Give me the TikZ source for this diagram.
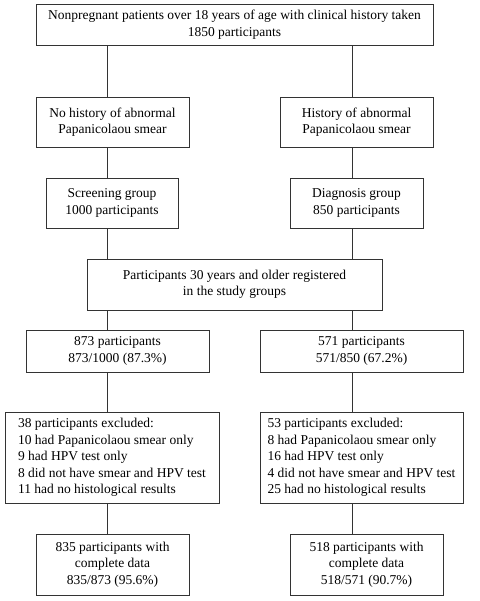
\documentclass[tikz,border=0pt]{standalone}
\usepackage{fontspec}
\setmainfont{Liberation Serif}
\begin{document}
\begin{tikzpicture}[x=1pt, y=-1pt,
	box/.style={draw=black!80, line width=0.8pt, align=center, inner sep=0pt,
		font=\fontsize{13.5}{16.5}\selectfont},
	list/.style={box, align=left}]
	\useasboundingbox (0,0) rectangle (479,601);
	
	\node [box, minimum width=397pt, minimum height=41pt] (all) at (234.5,24.5)
		{Nonpregnant patients over 18 years of age with clinical history taken\\1850 participants};
	
	\node [box, minimum width=153pt, minimum height=50pt] (nohist) at (112.5,122)
		{No history of abnormal\\Papanicolaou smear};
	\node [box, minimum width=153pt, minimum height=50pt] (hist) at (356.5,122)
		{History of abnormal\\Papanicolaou smear};
	
	\node [box, minimum width=132pt, minimum height=50pt] (screen) at (112,203)
		{Screening group\\1000 participants};
	\node [box, minimum width=133pt, minimum height=50pt] (diag) at (356.5,203)
		{Diagnosis group\\850 participants};
	
	\node [box, minimum width=295pt, minimum height=51pt] (older) at (234.5,284.5)
		{Participants 30 years and older registered\\in the study groups};
	
	\node [box, minimum width=183pt, minimum height=42pt] (p873) at (117.5,351)
		{873 participants\\873/1000 (87.3\%)};
	\node [box, minimum width=203pt, minimum height=42pt] (p571) at (361.5,351)
		{571 participants\\571/850 (67.2\%)};
	
	\node [list, minimum width=214pt, minimum height=91pt] (excl38) at (112,457.5)
		{38 participants excluded:\\10 had Papanicolaou smear only\\9 had HPV test only\\8 did not have smear and HPV test\\11 had no histological results};
	\node [list, minimum width=203pt, minimum height=91pt] (excl53) at (361.5,457.5)
		{53 participants excluded:\\8 had Papanicolaou smear only\\16 had HPV test only\\4 did not have smear and HPV test\\25 had no histological results};
	
	\node [box, minimum width=153pt, minimum height=61pt] (c835) at (112.5,564.5)
		{835 participants with\\complete data\\835/873 (95.6\%)};
	\node [box, minimum width=153pt, minimum height=61pt] (c518) at (366.5,564.5)
		{518 participants with\\complete data\\518/571 (90.7\%)};
	
	\coordinate (lx) at (107,0);
	\coordinate (rx) at (352,0);
	
	\draw [black!80, line width=0.8pt] (all.south -| lx) -- (nohist.north -| lx);
	\draw [black!80, line width=0.8pt] (nohist.south -| lx) -- (screen.north -| lx);
	\draw [black!80, line width=0.8pt] (screen.south -| lx) -- (older.north -| lx);
	\draw [black!80, line width=0.8pt] (older.south -| lx) -- (p873.north -| lx);
	\draw [black!80, line width=0.8pt] (p873.south -| lx) -- (excl38.north -| lx);
	\draw [black!80, line width=0.8pt] (excl38.south -| lx) -- (c835.north -| lx);
	
	\draw [black!80, line width=0.8pt] (all.south -| rx) -- (hist.north -| rx);
	\draw [black!80, line width=0.8pt] (hist.south -| rx) -- (diag.north -| rx);
	\draw [black!80, line width=0.8pt] (diag.south -| rx) -- (older.north -| rx);
	\draw [black!80, line width=0.8pt] (older.south -| rx) -- (p571.north -| rx);
	\draw [black!80, line width=0.8pt] (p571.south -| rx) -- (excl53.north -| rx);
	\draw [black!80, line width=0.8pt] (excl53.south -| rx) -- (c518.north -| rx);
	
\end{tikzpicture}
\end{document}
